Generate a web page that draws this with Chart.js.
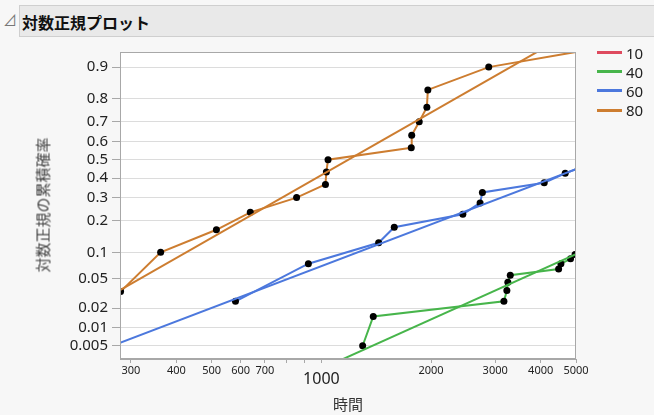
<!DOCTYPE html>
<html>
<head>
<meta charset="utf-8">
<script src="https://cdn.jsdelivr.net/npm/chart.js@4.4.1/dist/chart.umd.min.js"></script>
<style>
  body { margin: 0; width: 654px; height: 415px; overflow: hidden; position: relative; background: #f7f7f7; font-family: "Noto Sans", "Noto Sans CJK JP", sans-serif; }
  #tri { position: absolute; left: 3px; top: 9px; font-size: 14px; color: #777; }
  #titlebar { position: absolute; left: 19px; top: 5px; width: 640px; height: 30px; background: #e9e9e9; border: 1px solid #cfcfcf; }
  #titlebar span { position: absolute; left: 2px; top: 4px; font: bold 16px "Noto Sans CJK JP", sans-serif; color: #111; }
  #chart { position: absolute; left: 0; top: 0; }
  #ytitle { position: absolute; left: 42px; top: 205px; transform: translate(-50%, -50%) rotate(-90deg); font: 15px "Noto Sans CJK JP", sans-serif; color: #444; white-space: nowrap; }
  #xtitle { position: absolute; left: 348px; top: 403px; transform: translate(-50%, -50%); font: 15px "Noto Sans CJK JP", sans-serif; color: #333; }
  #legend { position: absolute; left: 597px; top: 43px; }
  .row { height: 19.2px; display: flex; align-items: center; }
  .row i { display: inline-block; width: 25px; height: 3px; margin-right: 4px; }
  .row b { font: 15px "Noto Sans", sans-serif; color: #222; }
</style>
</head>
<body>
<div id="tri">⊿</div>
<div id="titlebar"><span>対数正規プロット</span></div>
<canvas id="chart" width="654" height="415"></canvas>
<div id="ytitle">対数正規の累積確率</div>
<div id="xtitle">時間</div>
<div id="legend"></div>
<script>
// groups (legend)
const groupNames = ["10", "40", "60", "80"];
const groupColors = ["#de4a5e", "#47b54b", "#4c78dd", "#cd7d30"];

// group 40 (green): observed points
const time40 = [1298, 1388, 3170, 3230, 3250, 3300, 4480, 4545, 4830, 4970];
const prob40 = [0.005, 0.015, 0.025, 0.035, 0.045, 0.055, 0.065, 0.075, 0.085, 0.095];
const fitTime40 = [1000, 5000];
const fitProb40 = [0.0019, 0.0956];

// group 60 (blue)
const time60 = [581, 921, 1436, 1585, 2445, 2727, 2767, 4090, 4670, 5400];
const prob60 = [0.025, 0.075, 0.125, 0.175, 0.225, 0.275, 0.325, 0.375, 0.425, 0.475];
const fitTime60 = [280, 5000];
const fitProb60 = [0.0056, 0.448];

// group 80 (orange)
const time80 = [281, 362, 515, 638, 855, 1026, 1032, 1043, 1765, 1770, 1856, 1948, 1960, 2880, 12000];
const prob80 = [0.034, 0.1, 0.166, 0.233, 0.3, 0.366, 0.433, 0.5, 0.566, 0.633, 0.7, 0.766, 0.833, 0.9, 0.966];
const fitTime80 = [280, 5000];
const fitProb80 = [0.0355, 0.964];

// axis ticks
const xTicks = [300, 400, 500, 600, 700, 800, 900, 1000, 2000, 3000, 4000, 5000];
const xTickLabels = ["300", "400", "500", "600", "700", "", "", "1000", "2000", "3000", "4000", "5000"];
const yTickProbs = [0.005, 0.01, 0.02, 0.05, 0.1, 0.2, 0.3, 0.4, 0.5, 0.6, 0.7, 0.8, 0.9];
const yTickLabels = ["0.005", "0.01", "0.02", "0.05", "0.1", "0.2", "0.3", "0.4", "0.5", "0.6", "0.7", "0.8", "0.9"];

// inverse normal CDF (Acklam) - normal probability scale
function probit(p) {
    const a = [-3.969683028665376e+01, 2.209460984245205e+02, -2.759285104469687e+02, 1.383577518672690e+02, -3.066479806614716e+01, 2.506628277459239e+00];
    const b = [-5.447609879822406e+01, 1.615858368580409e+02, -1.556989798598866e+02, 6.680131188771972e+01, -1.328068155288572e+01];
    const c = [-7.784894002430293e-03, -3.223964580411365e-01, -2.400758277161838e+00, -2.549732539343734e+00, 4.374664141464968e+00, 2.938163982698783e+00];
    const d = [7.784695709041462e-03, 3.224671290700398e-01, 2.445134137142996e+00, 3.754408661907416e+00];
    const pl = 0.02425;
    let q, r;
    if (p < pl) {
        q = Math.sqrt(-2 * Math.log(p));
        return (((((c[0]*q+c[1])*q+c[2])*q+c[3])*q+c[4])*q+c[5]) / ((((d[0]*q+d[1])*q+d[2])*q+d[3])*q+1);
    }
    if (p > 1 - pl) {
        q = Math.sqrt(-2 * Math.log(1 - p));
        return -(((((c[0]*q+c[1])*q+c[2])*q+c[3])*q+c[4])*q+c[5]) / ((((d[0]*q+d[1])*q+d[2])*q+d[3])*q+1);
    }
    q = p - 0.5; r = q * q;
    return (((((a[0]*r+a[1])*r+a[2])*r+a[3])*r+a[4])*r+a[5])*q / (((((b[0]*r+b[1])*r+b[2])*r+b[3])*r+b[4])*r+1);
}

function pts(times, probs) {
    return times.map((t, i) => ({ x: t, y: probit(probs[i]) }));
}

function stepSet(times, probs, color) {
    return {
        data: pts(times, probs), borderColor: color, borderWidth: 2, tension: 0,
        pointRadius: 3.5, pointBackgroundColor: "#000", pointBorderWidth: 0, pointHoverRadius: 3.5
    };
}
function fitSet(times, probs, color) {
    return { data: pts(times, probs), borderColor: color, borderWidth: 2, tension: 0, pointRadius: 0 };
}

// legend
const legend = document.getElementById("legend");
groupNames.forEach((n, i) => {
    legend.innerHTML += `<div class="row"><i style="background:${groupColors[i]}"></i><b>${n}</b></div>`;
});

// white plot area + frame
const plotFrame = {
    id: "plotFrame",
    beforeDraw(chart) {
        const a = chart.chartArea, ctx = chart.ctx;
        ctx.save();
        ctx.fillStyle = "#fff";
        ctx.fillRect(a.left, a.top, a.right - a.left, a.bottom - a.top);
        ctx.restore();
    },
    afterDraw(chart) {
        const a = chart.chartArea, ctx = chart.ctx;
        ctx.save();
        ctx.strokeStyle = "#a8a8a8";
        ctx.lineWidth = 1;
        ctx.strokeRect(a.left + 0.5, a.top + 0.5, a.right - a.left - 1, a.bottom - a.top - 1);
        ctx.restore();
    }
};

const ctx = document.getElementById("chart").getContext("2d");
new Chart(ctx, {
    type: "line",
    data: {
        datasets: [
            fitSet(fitTime40, fitProb40, groupColors[1]),
            fitSet(fitTime60, fitProb60, groupColors[2]),
            fitSet(fitTime80, fitProb80, groupColors[3]),
            stepSet(time40, prob40, groupColors[1]),
            stepSet(time60, prob60, groupColors[2]),
            stepSet(time80, prob80, groupColors[3])
        ]
    },
    options: {
        responsive: false,
        animation: false,
        devicePixelRatio: 1,
        layout: { padding: { top: 52, right: 78, left: 0, bottom: 0 } },
        plugins: { legend: { display: false }, tooltip: { enabled: false } },
        scales: {
            x: {
                type: "logarithmic",
                min: 280, max: 5000,
                afterBuildTicks: s => { s.ticks = xTicks.map(v => ({ value: v })); },
                afterFit: s => { s.height = 56; },
                border: { color: "#a8a8a8" },
                grid: { drawOnChartArea: false, drawTicks: true, tickLength: 4, tickColor: "#a8a8a8" },
                ticks: {
                    autoSkip: false, maxRotation: 0, padding: 1, color: "#222",
                    callback: (v, i) => xTickLabels[i],
                    font: c => (c.tick && c.tick.value === 1000)
                        ? { family: "Noto Sans", size: 16, lineHeight: 1.875 }
                        : { family: "Noto Sans", size: 11, lineHeight: 1.2 }
                }
            },
            y: {
                type: "linear",
                min: probit(0.0029), max: probit(0.932),
                afterBuildTicks: s => { s.ticks = yTickProbs.map(p => ({ value: probit(p) })); },
                afterFit: s => { s.width = 120; },
                border: { color: "#a8a8a8" },
                grid: { color: "#dcdcdc", drawTicks: true, tickLength: 8, tickColor: "#a8a8a8" },
                ticks: {
                    autoSkip: false, padding: 4, color: "#222",
                    font: { family: "Noto Sans", size: 15 },
                    callback: (v, i) => yTickLabels[i]
                }
            }
        }
    },
    plugins: [plotFrame]
});
</script>
</body>
</html>
